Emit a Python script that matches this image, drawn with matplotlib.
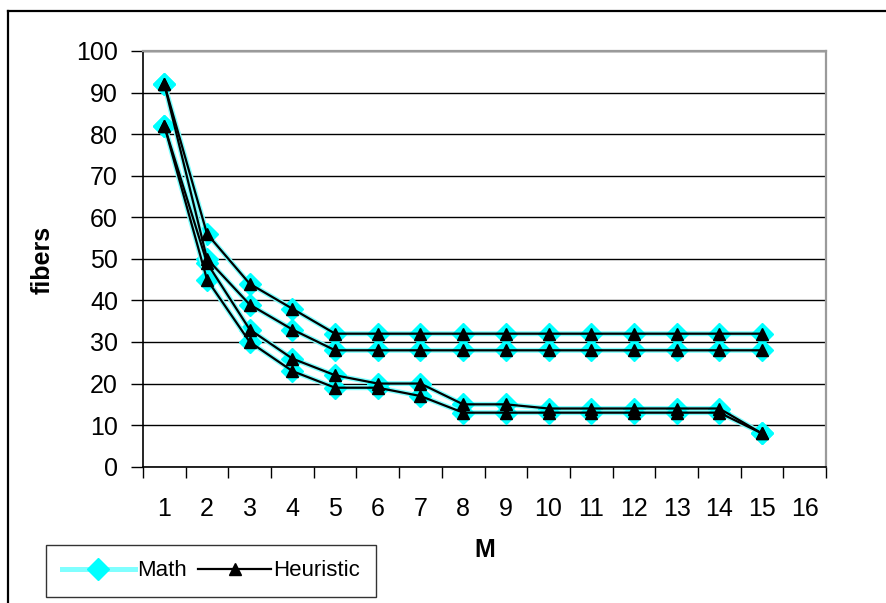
import matplotlib
matplotlib.use("Agg")
import matplotlib.pyplot as plt
from matplotlib.lines import Line2D

plt.rcParams['font.family'] = ['Liberation Sans', 'DejaVu Sans']

# Data
m_values = list(range(1, 16))
categories = [str(i) for i in range(1, 17)]

math_1 = [92, 56, 44, 38, 32, 32, 32, 32, 32, 32, 32, 32, 32, 32, 32]
math_2 = [92, 50, 39, 33, 28, 28, 28, 28, 28, 28, 28, 28, 28, 28, 28]
math_3 = [82, 49, 33, 26, 22, 20, 20, 15, 15, 14, 14, 14, 14, 14, 8]
math_4 = [82, 45, 30, 23, 19, 19, 17, 13, 13, 13, 13, 13, 13, 13, 8]

heur_1 = [92, 56, 44, 38, 32, 32, 32, 32, 32, 32, 32, 32, 32, 32, 32]
heur_2 = [92, 50, 39, 33, 28, 28, 28, 28, 28, 28, 28, 28, 28, 28, 28]
heur_3 = [82, 49, 33, 26, 22, 20, 20, 15, 15, 14, 14, 14, 14, 14, 8]
heur_4 = [82, 45, 30, 23, 19, 19, 17, 13, 13, 13, 13, 13, 13, 13, 8]

yticks = list(range(0, 101, 10))

W, H = 886, 603
fig = plt.figure(figsize=(W / 100, H / 100), dpi=100)
left, right, top, bottom = 143, 826, 51, 466.7
ax = fig.add_axes([left / W, (H - bottom) / H, (right - left) / W, (bottom - top) / H])

math_series = [math_1, math_2, math_3, math_4]
heur_series = [heur_1, heur_2, heur_3, heur_4]

for i, s in enumerate(math_series):
    ax.plot(m_values, s, color='#80FFFF', lw=3.6, marker='D', markersize=11,
            markerfacecolor='#00FFFF', markeredgecolor='#00FFFF', markeredgewidth=1,
            zorder=3, label='Math' if i == 0 else None)
for i, s in enumerate(heur_series):
    ax.plot(m_values, s, color='black', lw=1.6, marker='^', markersize=9,
            markerfacecolor='black', markeredgecolor='black', zorder=4,
            label='Heuristic' if i == 0 else None)

ax.set_xlim(0.5, 16.5)
ax.set_ylim(0, 100)
ax.set_yticks(yticks)
ax.set_yticklabels([str(v) for v in yticks], fontsize=18)
ax.yaxis.grid(True, color='black', lw=1.0)
ax.set_axisbelow(True)

ax.set_xticks([x + 0.5 for x in range(0, 17)])
ax.set_xticklabels([])
ax.set_xticks(list(range(1, 17)), minor=True)
ax.set_xticklabels(categories, minor=True, fontsize=18)
ax.tick_params(axis='x', which='major', direction='out', length=8, width=1, color='black')
ax.tick_params(axis='x', which='minor', length=0, pad=22)
ax.tick_params(axis='y', direction='out', length=9, width=1, pad=9)

for sp in ['left', 'bottom']:
    ax.spines[sp].set_color('black')
    ax.spines[sp].set_linewidth(1.2)
for sp in ['top', 'right']:
    ax.spines[sp].set_color('#9a9a9a')
    ax.spines[sp].set_linewidth(1.6)

fig.text(43 / W, 1 - 260 / H, 'fibers', rotation=90, fontsize=18, fontweight='bold',
         ha='center', va='center')
fig.text(485 / W, 1 - 550 / H, 'M', fontsize=18, fontweight='bold',
         ha='center', va='center')

leg = fig.legend(loc='lower left', bbox_to_anchor=(46 / W, 6 / H), ncol=2,
                 fontsize=16, frameon=True, fancybox=False, handlelength=3.3,
                 handletextpad=0.1, columnspacing=0.5, borderpad=0.7,
                 borderaxespad=0)
leg.get_frame().set_edgecolor('black')
leg.get_frame().set_linewidth(1.0)

# outer chart border
fig.add_artist(Line2D([7.5 / W, 7.5 / W], [0, 1 - 11 / H], color='black', lw=1.6,
                      transform=fig.transFigure))
fig.add_artist(Line2D([7.5 / W, 1], [1 - 11 / H, 1 - 11 / H], color='black', lw=1.6,
                      transform=fig.transFigure))

fig.savefig('out.png', dpi=100)
